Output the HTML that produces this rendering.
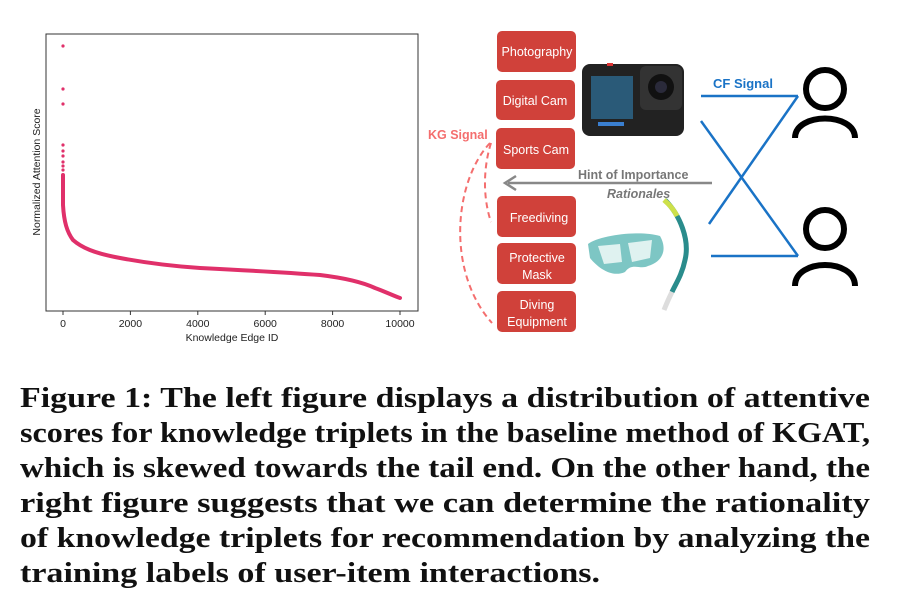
<!DOCTYPE html>
<html><head><meta charset="utf-8"><style>
html,body{margin:0;padding:0;background:#fff;}
svg{display:block;}
.cap{font-family:"Liberation Serif",serif;font-weight:bold;font-size:28px;fill:#111;}
.box{fill:#d0413a;}
.bt{font-family:"Liberation Sans",sans-serif;font-size:12.5px;fill:#fff;text-anchor:middle;}
</style></head><body>
<svg width="909" height="616" viewBox="0 0 909 616" xmlns="http://www.w3.org/2000/svg">
<rect x="46" y="34" width="372" height="277" fill="none" stroke="#333" stroke-width="1"/>
<g font-family="Liberation Sans, sans-serif" font-size="10.5" fill="#222" text-anchor="middle">
<line x1="63" y1="311" x2="63" y2="315" stroke="#333"/><text x="63" y="327">0</text>
<line x1="130.4" y1="311" x2="130.4" y2="315" stroke="#333"/><text x="130.4" y="327">2000</text>
<line x1="197.8" y1="311" x2="197.8" y2="315" stroke="#333"/><text x="197.8" y="327">4000</text>
<line x1="265.2" y1="311" x2="265.2" y2="315" stroke="#333"/><text x="265.2" y="327">6000</text>
<line x1="332.6" y1="311" x2="332.6" y2="315" stroke="#333"/><text x="332.6" y="327">8000</text>
<line x1="400" y1="311" x2="400" y2="315" stroke="#333"/><text x="400" y="327">10000</text>
<text x="232" y="341">Knowledge Edge ID</text>
<text transform="translate(40,172) rotate(-90)">Normalized Attention Score</text>
</g>
<g fill="#e0306a">
<circle cx="63" cy="46" r="1.6"/><circle cx="63" cy="89" r="1.6"/><circle cx="63" cy="104" r="1.6"/>
<circle cx="63" cy="145" r="1.6"/><circle cx="63" cy="151" r="1.6"/><circle cx="63" cy="156" r="1.6"/>
<circle cx="63" cy="162" r="1.6"/><circle cx="63" cy="166" r="1.6"/><circle cx="63" cy="170" r="1.6"/>
</g>
<path d="M63,175 L63,205 C64,222 67,232 73,240 C82,248 95,253 115,257 C140,262 170,266 200,268 C240,270 280,272 320,275 C345,278 362,282 375,288 C386,292 394,296 400,298" fill="none" stroke="#e0306a" stroke-width="4" stroke-linecap="round"/>

<rect class="box" x="497" y="31" width="79" height="41" rx="5"/><text class="bt" x="537" y="56">Photography</text>
<rect class="box" x="496" y="80" width="79" height="40" rx="5"/><text class="bt" x="535" y="105">Digital Cam</text>
<rect class="box" x="496" y="128" width="79" height="41" rx="5"/><text class="bt" x="536" y="154">Sports Cam</text>
<rect class="box" x="497" y="196" width="79" height="41" rx="5"/><text class="bt" x="539" y="222">Freediving</text>
<rect class="box" x="497" y="243" width="79" height="41" rx="5"/><text class="bt" x="537" y="262">Protective</text><text class="bt" x="537" y="279">Mask</text>
<rect class="box" x="497" y="291" width="79" height="41" rx="5"/><text class="bt" x="537" y="309">Diving</text><text class="bt" x="537" y="326">Equipment</text>

<rect x="582" y="64" width="102" height="72" rx="8" fill="#222"/>
<rect x="640" y="66" width="42" height="44" rx="6" fill="#333"/>
<circle cx="661" cy="87" r="13" fill="#111"/><circle cx="661" cy="87" r="6" fill="#2a2a3a"/>
<rect x="591" y="76" width="42" height="43" fill="#2a5a78"/>
<rect x="598" y="122" width="26" height="4" fill="#3a7fd0"/>
<rect x="607" y="63" width="6" height="3" fill="#d33"/>

<path d="M588,244 C600,235 640,230 660,236 C668,250 662,262 648,266 C640,270 632,262 625,272 C612,278 598,268 590,258 Z" fill="#6fc0be" opacity="0.9"/>
<path d="M598,246 L620,244 L622,262 L604,264 Z M628,243 L652,240 L650,258 L632,262 Z" fill="#dff2f0"/>
<path d="M665,200 C680,215 690,240 685,260 C682,275 675,285 672,292" fill="none" stroke="#2a8c8c" stroke-width="5"/>
<path d="M664,200 C670,205 674,210 677,216" fill="none" stroke="#cde04a" stroke-width="5"/>
<path d="M672,292 C668,300 666,305 664,310" fill="none" stroke="#ddd" stroke-width="5"/>

<g stroke="#1a73c6" stroke-width="2.5" fill="none">
<line x1="701" y1="96" x2="798" y2="96"/><line x1="798" y1="96" x2="709" y2="224"/>
<line x1="701" y1="121" x2="798" y2="256"/><line x1="711" y1="256" x2="798" y2="256"/>
</g>
<text x="713" y="88" font-family="Liberation Sans, sans-serif" font-weight="bold" font-size="13" fill="#1a73c6">CF Signal</text>

<g stroke="#000" stroke-width="6" fill="none">
<circle cx="825" cy="89" r="19"/><path d="M795,138 C795,112 855,112 855,138"/>
<circle cx="825" cy="229" r="19"/><path d="M795,286 C795,258 855,258 855,286"/>
</g>

<line x1="712" y1="183" x2="508" y2="183" stroke="#888" stroke-width="2.5"/>
<path d="M516,176 L505,183 L516,190" fill="none" stroke="#888" stroke-width="2.5"/>
<text x="578" y="179" font-family="Liberation Sans, sans-serif" font-weight="bold" font-size="12.5" fill="#777">Hint of Importance</text>
<text x="607" y="198" font-family="Liberation Sans, sans-serif" font-weight="bold" font-style="italic" font-size="12.5" fill="#777">Rationales</text>

<text x="428" y="139" font-family="Liberation Sans, sans-serif" font-weight="bold" font-size="12.5" fill="#f46e6e">KG Signal</text>
<g stroke="#f46e6e" stroke-width="2" stroke-dasharray="6,4" fill="none">
<path d="M491,143 C484,165 482,195 491,222"/>
<path d="M490,143 C455,180 445,270 492,323"/>
</g>

<text class="cap" x="20" y="407" textLength="850" lengthAdjust="spacingAndGlyphs">Figure 1: The left figure displays a distribution of attentive</text>
<text class="cap" x="20" y="442" textLength="850" lengthAdjust="spacingAndGlyphs">scores for knowledge triplets in the baseline method of KGAT,</text>
<text class="cap" x="20" y="477" textLength="850" lengthAdjust="spacingAndGlyphs">which is skewed towards the tail end. On the other hand, the</text>
<text class="cap" x="20" y="512" textLength="850" lengthAdjust="spacingAndGlyphs">right figure suggests that we can determine the rationality</text>
<text class="cap" x="20" y="547" textLength="850" lengthAdjust="spacingAndGlyphs">of knowledge triplets for recommendation by analyzing the</text>
<text class="cap" x="20" y="582" textLength="580" lengthAdjust="spacingAndGlyphs">training labels of user-item interactions.</text>
</svg>
</body></html>
